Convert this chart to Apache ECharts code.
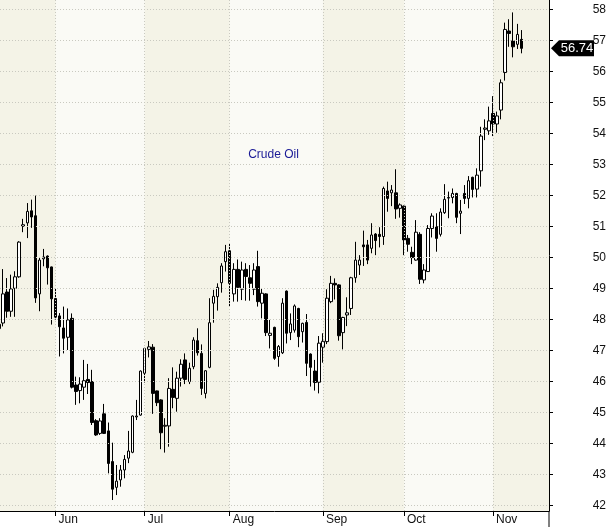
<!DOCTYPE html>
<html>
<head>
<meta charset="utf-8">
<script src="https://cdn.jsdelivr.net/npm/echarts@6/dist/echarts.min.js"></script>
<style>
html,body{margin:0;padding:0;background:#fff;}
#chart{width:611px;height:527px;}
</style>
</head>
<body>
<div id="chart"></div>
<script>
// Trading days (2017), front-month WTI crude oil
const dates = [
'05-12','05-15','05-16','05-17','05-18','05-19','05-22','05-23','05-24','05-25','05-26','05-29','05-30','05-31',
'06-01','06-02','06-05','06-06','06-07','06-08','06-09','06-12','06-13','06-14','06-15','06-16','06-19','06-20','06-21','06-22','06-23','06-26','06-27','06-28','06-29','06-30',
'07-03','07-04','07-05','07-06','07-07','07-10','07-11','07-12','07-13','07-14','07-17','07-18','07-19','07-20','07-21','07-24','07-25','07-26','07-27','07-28','07-31',
'08-01','08-02','08-03','08-04','08-07','08-08','08-09','08-10','08-11','08-14','08-15','08-16','08-17','08-18','08-21','08-22','08-23','08-24','08-25','08-28','08-29','08-30','08-31',
'09-01','09-05','09-06','09-07','09-08','09-11','09-12','09-13','09-14','09-15','09-18','09-19','09-20','09-21','09-22','09-25','09-26','09-27','09-28','09-29',
'10-02','10-03','10-04','10-05','10-06','10-09','10-10','10-11','10-12','10-13','10-16','10-17','10-18','10-19','10-20','10-23','10-24','10-25','10-26','10-27','10-30','10-31',
'11-01','11-02','11-03','11-06','11-07','11-08','11-09','11-10'
];

const opens = [
47.70,47.88,48.88,48.26,49.00,49.37,51.00,51.11,51.50,51.34,48.82,49.95,50.04,49.69,
48.67,48.11,47.72,47.42,48.03,45.88,45.70,45.81,46.06,45.99,44.73,44.32,44.95,44.40,43.41,42.58,42.82,43.14,43.52,43.71,44.85,44.91,
46.26,47.03,47.10,45.69,45.40,44.55,44.56,45.74,45.45,46.10,46.69,45.99,46.47,47.31,46.90,45.61,46.45,48.52,48.73,49.18,49.86,
50.21,48.82,49.61,48.97,49.61,49.34,48.97,49.70,48.52,48.82,47.48,47.74,46.80,46.92,48.91,47.57,47.65,48.35,47.60,47.90,46.88,46.33,45.97,
47.10,47.28,48.57,49.16,49.11,47.57,48.14,48.35,49.34,49.75,50.40,50.40,50.29,50.75,50.74,50.67,52.14,52.08,52.08,51.58,
51.65,50.61,50.16,49.91,50.74,49.27,49.54,50.93,50.99,50.74,51.44,51.91,51.93,52.06,51.42,52.06,51.90,52.58,52.20,52.79,54.13,54.08,
54.64,54.30,54.75,55.96,57.30,56.98,56.87,57.03
];
const highs = [
48.05,49.62,49.33,49.44,49.55,50.52,51.24,51.75,51.86,51.99,49.98,50.27,50.06,49.70,
49.00,48.20,48.41,48.35,48.19,46.15,46.13,46.69,46.56,46.37,44.78,44.81,45.27,44.67,44.02,43.30,43.30,43.62,44.40,44.90,45.40,46.35,
47.08,47.30,47.20,45.70,45.42,44.81,46.10,46.45,46.31,46.71,46.90,46.60,47.42,47.71,47.19,46.36,48.68,48.95,49.16,49.81,50.40,
50.43,49.81,49.93,49.86,49.81,49.75,49.81,50.21,49.00,48.84,47.98,47.76,47.17,48.68,48.93,48.19,48.48,48.37,47.89,48.17,46.90,46.69,47.46,
47.55,48.97,49.40,49.32,49.13,48.08,48.71,49.37,50.50,50.07,50.86,50.56,51.10,50.78,50.97,52.28,52.44,52.33,52.84,51.74,
51.67,50.72,50.34,51.20,50.81,49.78,51.04,51.42,51.42,51.58,52.36,52.12,52.22,52.08,51.85,52.33,52.62,52.60,52.87,54.21,54.45,54.86,
55.20,54.70,55.74,57.57,57.68,57.90,57.53,57.33
];
const lows = [
47.60,47.77,48.05,48.08,48.08,49.34,50.81,50.62,50.95,48.53,48.26,49.71,49.12,47.83,
47.99,46.80,46.90,47.01,45.77,45.24,45.29,45.40,45.59,44.59,44.24,44.27,44.30,43.03,42.17,42.33,42.60,42.87,43.36,43.68,44.75,44.89,
45.96,46.77,44.95,45.20,43.81,43.70,43.89,45.13,45.02,45.83,45.91,45.91,46.39,46.83,45.56,45.45,46.42,47.89,48.28,48.86,49.54,
48.41,48.57,48.57,48.62,48.60,48.60,48.78,48.41,48.03,47.46,47.06,46.69,46.47,46.88,47.22,47.33,47.57,47.10,47.25,46.17,45.83,45.70,45.61,
46.60,47.20,48.52,48.64,47.31,47.03,47.78,48.14,49.18,49.43,49.72,49.78,50.13,50.07,50.32,50.40,51.47,51.65,51.24,51.28,
50.07,50.18,49.78,49.89,49.14,49.16,49.54,50.64,50.18,50.67,51.40,51.26,51.74,51.10,50.75,51.72,51.58,51.93,51.93,52.28,53.78,53.95,
53.91,54.02,54.45,55.70,56.79,56.45,56.72,56.58
];
const closes = [
47.84,48.82,48.26,48.98,49.37,50.49,51.05,51.48,51.30,48.69,49.91,50.01,49.66,48.66,
48.07,47.76,47.39,47.98,45.81,45.67,45.91,46.02,45.96,44.67,44.27,44.72,44.32,43.35,42.52,42.78,43.14,43.48,43.75,44.88,44.88,46.33,
47.06,47.11,45.61,45.31,44.34,44.58,45.77,45.48,46.10,46.55,46.06,46.42,47.33,46.92,45.77,46.34,47.89,48.74,49.03,49.72,50.18,
49.16,49.61,49.03,49.59,49.38,49.16,49.59,48.57,48.84,47.57,47.55,46.74,47.12,48.52,47.55,47.85,48.43,47.44,47.87,46.58,46.45,45.96,47.23,
47.29,48.68,49.16,49.11,47.47,48.06,48.21,49.34,49.91,49.91,50.34,49.91,50.72,50.54,50.67,52.22,51.90,52.17,51.56,51.69,
50.56,50.42,49.99,50.81,49.29,49.59,50.93,51.33,50.61,51.46,51.87,51.93,52.06,51.29,51.49,51.90,52.47,52.19,52.65,53.91,54.17,54.40,
54.30,54.56,55.63,57.35,57.22,56.79,57.19,56.74
];

const yTicks = [42,43,44,45,46,47,48,49,50,51,52,53,54,55,56,57,58];
const monthStarts = {'06-01':'Jun','07-03':'Jul','08-01':'Aug','09-01':'Sep','10-02':'Oct','11-01':'Nov'};
const lightMonths = [['06-01','07-03'],['08-01','09-01'],['10-02','11-01']];
const seriesName = 'Crude Oil';

// x position = trading-day index
const dayIndex = (d) => dates.indexOf(d);
const monthTickIdx = Object.keys(monthStarts).map(dayIndex);
const monthNameByIdx = {};
Object.keys(monthStarts).forEach(d => { monthNameByIdx[dayIndex(d)] = monthStarts[d]; });
const ohlc = opens.map((o,i)=>[i, o, closes[i], lows[i], highs[i]]);
const lastClose = closes[closes.length-1];

const X_MIN = 0.27, X_MAX = 135.83;
const Y_MIN = 41.816, Y_MAX = 58.3;
const GRID_RIGHT = 62, GRID_BOTTOM = 16;
const gridColor = '#c9c9c0';
const FONT = 'Liberation Sans, Arial, sans-serif';

const chart = echarts.init(document.getElementById('chart'), null, {renderer:'canvas'});

chart.setOption({
  animation: false,
  backgroundColor: '#ffffff',
  grid: {left: 0, right: GRID_RIGHT, top: 0, bottom: GRID_BOTTOM,
         show: true, backgroundColor: '#f4f3e7', borderWidth: 0},
  xAxis: {
    type: 'value', min: X_MIN, max: X_MAX,
    axisLine: {show: true, onZero: false, lineStyle: {color: '#000', width: 1}},
    axisTick: {show: true, length: 5, lineStyle: {color: '#000'}, customValues: monthTickIdx},
    axisLabel: {show: true, customValues: monthTickIdx,
                formatter: (v) => monthNameByIdx[Math.round(v)] || '',
                align: 'left', padding: [0,0,0,3], margin: 3,
                color: '#111', fontSize: 12, fontFamily: FONT},
    splitLine: {show: false}
  },
  yAxis: {
    type: 'value', position: 'right', min: Y_MIN, max: Y_MAX,
    axisLine: {show: true, lineStyle: {color: '#000', width: 1}},
    axisTick: {show: true, inside: false, length: 4, lineStyle: {color: '#000'}, customValues: yTicks},
    axisLabel: {show: true, customValues: yTicks, align: 'right', margin: 57,
                color: '#111', fontSize: 12, fontFamily: FONT},
    splitLine: {show: false}
  },
  series: [
    {
      type: 'line', data: [], z: 1, silent: true,
      markArea: {
        silent: true,
        itemStyle: {color: '#fafaf5'},
        label: {show: false},
        data: lightMonths.map(m => [{xAxis: dayIndex(m[0])}, {xAxis: dayIndex(m[1])}])
      }
    },
    {
      type: 'line', data: [], z: 2, silent: true,
      markLine: {
        silent: true, symbol: ['none','none'], label: {show: false},
        lineStyle: {color: gridColor, type: [1,2], width: 1},
        emphasis: {disabled: true},
        data: yTicks.map(v => ({yAxis: v})).concat(monthTickIdx.map(i => ({xAxis: i})))
      }
    },
    {
      name: seriesName, type: 'candlestick', data: ohlc, z: 3, barWidth: 3,
      encode: {x: 0, y: [1, 2, 3, 4]},
      itemStyle: {color: '#ffffff', color0: '#000000', borderColor: '#000000', borderColor0: '#000000',
                  borderColorDoji: '#000000', borderWidth: 1}
    }
  ]
});

// title label, price tag for last close, and axis line extension
const gridRightX = 611 - GRID_RIGHT;
const ty = chart.convertToPixel({yAxisIndex: 0}, lastClose);
const gridMidX = (chart.convertToPixel({xAxisIndex: 0}, X_MIN) + gridRightX) / 2;
chart.setOption({
  graphic: [
    {type: 'text', x: gridMidX - 1, y: 155, silent: true, z: 20,
     style: {text: seriesName, fill: '#1a1a96', fontSize: 12, fontFamily: FONT, align: 'center', verticalAlign: 'middle'}},
    {type: 'line', shape: {x1: gridRightX, y1: 527 - GRID_BOTTOM, x2: gridRightX, y2: 527},
     style: {stroke: '#000', lineWidth: 1}, silent: true, z: 20},
    {type: 'polygon', shape: {points: [[gridRightX + 2, ty], [gridRightX + 10, ty - 8], [gridRightX + 45, ty - 8], [gridRightX + 45, ty + 8], [gridRightX + 10, ty + 8]]},
     style: {fill: '#000'}, silent: true, z: 20},
    {type: 'text', x: gridRightX + 28, y: ty, silent: true, z: 21,
     style: {text: lastClose.toFixed(2), fill: '#fff', fontSize: 13, fontFamily: FONT,
             align: 'center', verticalAlign: 'middle'}}
  ]
});
</script>
</body>
</html>
